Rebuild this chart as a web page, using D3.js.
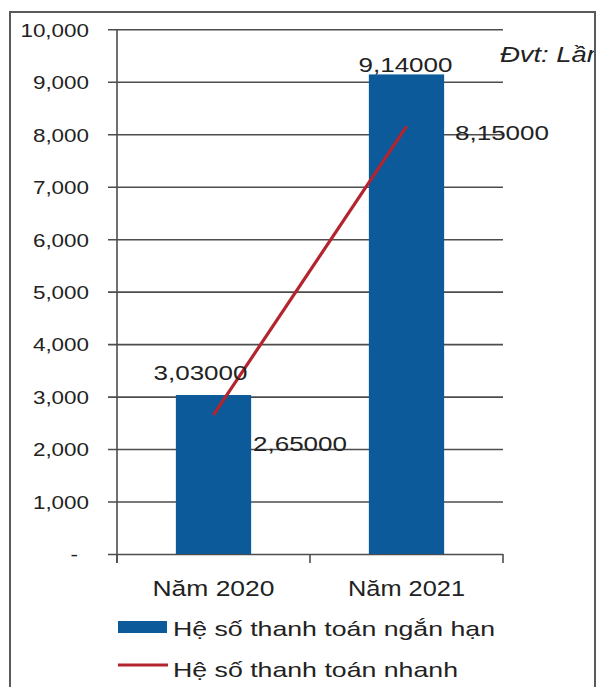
<!DOCTYPE html>
<html>
<head>
<meta charset="utf-8">
<script src="https://cdn.jsdelivr.net/npm/d3@7"></script>
<style>
  html, body { margin: 0; padding: 0; background: #ffffff; }
  svg { display: block; font-family: "Liberation Sans", Arial, sans-serif; }
</style>
</head>
<body>
<svg id="chart" width="599" height="687"></svg>
<script>
// Liquidity ratios by year (unit: times)
const categories = ["Năm 2020", "Năm 2021"];
const shortTermRatio = [3.03, 9.14];   // Hệ số thanh toán ngắn hạn (bars)
const quickRatio = [2.65, 8.15];       // Hệ số thanh toán nhanh (line)
const yTicks = [0, 1, 2, 3, 4, 5, 6, 7, 8, 9, 10];
const seriesNames = ["Hệ số thanh toán ngắn hạn", "Hệ số thanh toán nhanh"];
const unitLabel = "Đvt: Lần";

// Vietnamese number style: comma as decimal separator
const vn = d3.formatLocale({ decimal: ",", thousands: ".", grouping: [3], currency: ["", "₫"] });
const fmtAxis = v => (v === 0 ? "-" : vn.format(".3f")(v));
const fmtLabel = vn.format(".5f");

const barColor = "#0d5a9a";
const lineColor = "#b3242e";
const gridColor = "#4d4d4d";
const textColor = "#222222";

const svg = d3.select("#chart");

// plot area
const plot = { left: 117, right: 503, top: 29.3, bottom: 554 };

const x = d3.scaleBand()
  .domain(categories)
  .range([plot.left, plot.right])
  .paddingInner(0.61)
  .paddingOuter(0.305);

const y = d3.scaleLinear()
  .domain([0, 10])
  .range([plot.bottom, plot.top]);

const cx = c => x(c) + x.bandwidth() / 2;

// clip so the unit label is cut by the frame edge
svg.append("defs").append("clipPath").attr("id", "frameClip")
  .append("rect").attr("x", 10).attr("y", 12).attr("width", 584).attr("height", 680);

// y axis with gridlines
const yAxis = d3.axisLeft(y)
  .tickValues(yTicks)
  .tickFormat(fmtAxis)
  .tickSizeInner(-(plot.right - plot.left))
  .tickSizeOuter(0);

const gy = svg.append("g")
  .attr("transform", `translate(${plot.left},0)`)
  .call(yAxis);

gy.select(".domain").remove();
gy.selectAll(".tick line")
  .attr("x1", -9)
  .attr("stroke", gridColor)
  .attr("stroke-width", 1.6);
gy.selectAll(".tick text")
  .attr("x", d => (d === 0 ? -39 : -28))
  .attr("dy", "0.36em")
  .attr("fill", textColor)
  .attr("font-size", 19)
  .each(function () {
    const w = this.getComputedTextLength();
    d3.select(this).attr("textLength", w * 1.18).attr("lengthAdjust", "spacingAndGlyphs");
  });

// vertical axis line
svg.append("line")
  .attr("x1", plot.left).attr("x2", plot.left)
  .attr("y1", y(10)).attr("y2", plot.bottom + 9)
  .attr("stroke", gridColor).attr("stroke-width", 1.6);

// category boundary ticks
const boundaries = d3.range(categories.length + 1).map(i => plot.left + i * x.step());
svg.append("g").selectAll("line")
  .data(boundaries)
  .join("line")
  .attr("x1", d => d).attr("x2", d => d)
  .attr("y1", plot.bottom).attr("y2", plot.bottom + 9)
  .attr("stroke", gridColor).attr("stroke-width", 1.6);

// bars
svg.append("g").selectAll("rect")
  .data(categories.map((c, i) => ({ c, v: shortTermRatio[i] })))
  .join("rect")
  .attr("x", d => x(d.c))
  .attr("y", d => y(d.v))
  .attr("width", x.bandwidth())
  .attr("height", d => y(0) - y(d.v))
  .attr("fill", barColor);

// quick ratio line
const linePts = categories.map((c, i) => ({ c, v: quickRatio[i] }));
svg.append("path")
  .datum(linePts)
  .attr("fill", "none")
  .attr("stroke", lineColor)
  .attr("stroke-width", 3.2)
  .attr("d", d3.line().x(d => cx(d.c)).y(d => y(d.v)));

// data labels (offsets from each mark, text width)
const barLabelOffset = [{ dx: -13, dy: -15 }, { dx: -1, dy: -2.4 }];
const lineLabelOffset = [{ dx: 39.5, dy: 36 }, { dx: 48.5, dy: 13.5 }];
const labelWidth = 94;

svg.append("g").selectAll("text")
  .data(categories.map((c, i) => ({ c, v: shortTermRatio[i], o: barLabelOffset[i] })))
  .join("text")
  .attr("x", d => cx(d.c) + d.o.dx)
  .attr("y", d => y(d.v) + d.o.dy)
  .attr("text-anchor", "middle")
  .attr("font-size", 20)
  .attr("fill", textColor)
  .attr("textLength", labelWidth)
  .attr("lengthAdjust", "spacingAndGlyphs")
  .text(d => fmtLabel(d.v));

svg.append("g").selectAll("text")
  .data(categories.map((c, i) => ({ c, v: quickRatio[i], o: lineLabelOffset[i] })))
  .join("text")
  .attr("x", d => cx(d.c) + d.o.dx)
  .attr("y", d => y(d.v) + d.o.dy)
  .attr("text-anchor", "start")
  .attr("font-size", 20)
  .attr("fill", textColor)
  .attr("textLength", labelWidth)
  .attr("lengthAdjust", "spacingAndGlyphs")
  .text(d => fmtLabel(d.v));

// category labels
const catWidths = [122, 117];
svg.append("g").selectAll("text")
  .data(categories)
  .join("text")
  .attr("x", d => cx(d))
  .attr("y", 596)
  .attr("text-anchor", "middle")
  .attr("font-size", 22)
  .attr("fill", textColor)
  .attr("textLength", (d, i) => catWidths[i])
  .attr("lengthAdjust", "spacingAndGlyphs")
  .text(d => d);

// unit label
svg.append("text")
  .attr("clip-path", "url(#frameClip)")
  .attr("x", 500)
  .attr("y", 62)
  .attr("font-size", 22)
  .attr("font-style", "italic")
  .attr("fill", textColor)
  .attr("textLength", 102)
  .attr("lengthAdjust", "spacingAndGlyphs")
  .text(unitLabel);

// legend
const legend = svg.append("g");
legend.append("rect")
  .attr("x", 118).attr("y", 621).attr("width", 49).attr("height", 12)
  .attr("fill", barColor);
legend.append("line")
  .attr("x1", 118).attr("x2", 168).attr("y1", 665).attr("y2", 665)
  .attr("stroke", lineColor).attr("stroke-width", 3);
const legendWidths = [322, 285];
legend.selectAll("text")
  .data(seriesNames)
  .join("text")
  .attr("x", 173)
  .attr("y", (d, i) => 636 + i * 41)
  .attr("font-size", 21)
  .attr("fill", textColor)
  .attr("textLength", (d, i) => legendWidths[i])
  .attr("lengthAdjust", "spacingAndGlyphs")
  .text(d => d);

// outer frame
svg.append("rect")
  .attr("x", 10).attr("y", 12)
  .attr("width", 585).attr("height", 690)
  .attr("fill", "none")
  .attr("stroke", "#5a5a5a")
  .attr("stroke-width", 2);
</script>
</body>
</html>
